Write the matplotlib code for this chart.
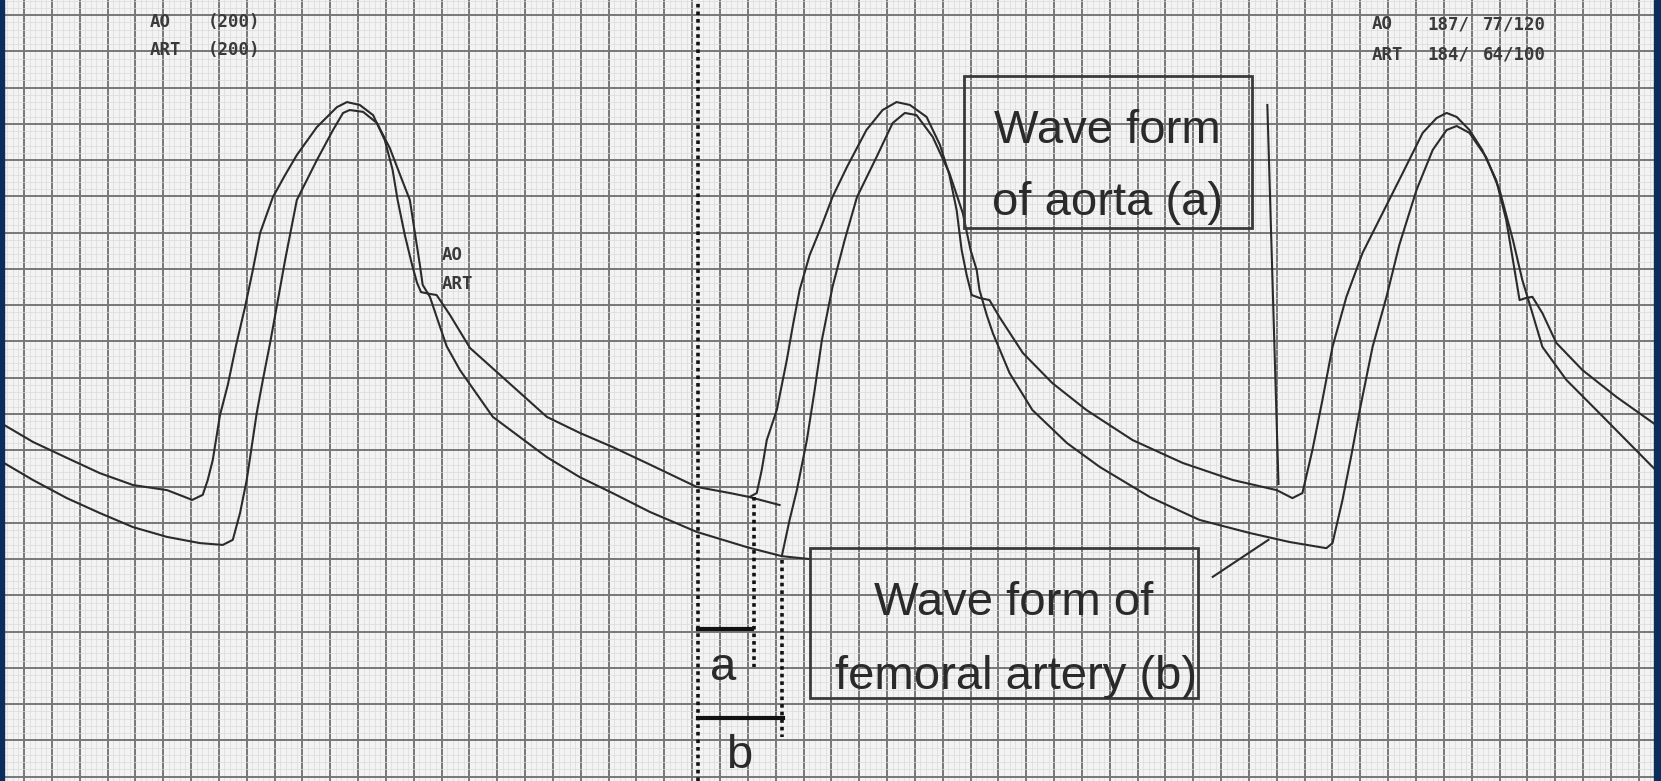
import matplotlib
matplotlib.use("Agg")
import matplotlib.pyplot as plt
from matplotlib.patches import Rectangle
import numpy as np

# chart paper: x in mm of paper (5 mm per big square), y in mmHg (10 per big square)
ao_t = [-3.6, 1.6, 7.7, 13.6, 19.6, 25.7, 28.9, 30.2, 32.1, 33.0, 33.9, 35.2, 36.6, 38.1,
        39.7, 41.1, 42.4, 44.7, 46.9, 49.0, 52.6, 56.2, 58.0, 60.3, 62.7, 64.8, 66.2, 67.1,
        68.4, 69.7, 70.6, 71.3, 72.9, 74.1, 76.5, 80.1, 84.9, 93.9, 99.8, 105.7, 111.8,
        120.8, 126.8, 130.3,
        131.6, 132.5, 133.4, 135.2, 137.0, 138.1, 139.3, 141.1, 143.3, 145.2, 147.8, 151.3,
        154.2, 156.7, 159.1, 162.1, 164.5, 166.2, 167.5, 168.4, 169.3, 170.2, 171.6, 173.4,
        175.2, 179.4, 184.7, 190.8, 199.1, 208.1, 217.1, 225.0, 227.8,
        229.6, 231.4, 233.2, 235.0, 237.5, 240.4, 244.0, 247.6, 251.2, 253.7, 255.5, 257.3,
        259.6, 261.9, 264.4, 266.2, 267.4, 268.6, 269.8, 270.9, 272.7, 275.2, 279.9, 286.0,
        293.9]
ao_p = [97.0, 92.3, 87.9, 83.7, 80.4, 79.0, 77.1, 76.3, 77.7, 81.8, 87.3, 99.7, 108.0, 119.0,
        129.5, 139.7, 149.9, 159.8, 165.9, 171.4, 179.1, 184.6, 186.0, 185.2, 182.4, 175.5,
        167.3, 159.0, 149.3, 141.1, 136.1, 133.6, 133.1, 132.8, 127.3, 118.2, 111.6, 99.2,
        94.8, 90.9, 86.5, 79.9, 78.2, 77.1,
        78.2, 84.6, 92.8, 101.1, 114.9, 124.5, 134.2, 143.8, 152.1, 159.8, 168.1, 178.3,
        183.8, 186.0, 185.2, 181.9, 174.2, 165.9, 156.2, 145.2, 138.3, 132.8, 132.0, 131.4,
        126.7, 116.8, 108.5, 101.1, 92.8, 86.5, 81.8, 79.0, 76.8,
        78.2, 90.1, 103.9, 118.5, 132.3, 144.4, 155.4, 166.4, 177.5, 181.6, 183.0, 181.9,
        178.3, 172.8, 164.5, 153.5, 142.5, 131.4, 132.0, 132.3, 127.8, 119.6, 112.1, 104.7,
        96.1]

art_t = [-3.6, 1.6, 7.7, 13.6, 19.6, 25.7, 31.6, 35.7, 37.5, 38.8, 40.0, 41.8, 42.9, 44.3,
         45.6, 46.9, 49.0, 52.6, 55.5, 57.3, 58.5, 60.9, 63.4, 65.7, 67.9, 69.3, 70.4, 71.1,
         71.6, 72.9, 74.3, 75.9, 78.3, 84.2, 93.9, 99.8, 105.7, 112.4, 120.8, 129.8, 136.1,
         137.5, 138.8, 140.6, 142.0, 143.3, 145.2, 147.4, 149.6, 153.1, 156.0, 158.2, 160.3,
         163.2, 166.2, 168.6, 170.0, 171.1, 171.6, 172.9, 174.0, 177.0, 181.1, 187.3, 193.2,
         202.2, 211.1, 220.1, 227.3, 233.9,
         235.0, 236.8, 238.4, 239.9, 242.2, 244.7, 247.0, 250.1, 253.0, 255.5, 257.3, 259.6,
         262.6, 265.0, 267.4, 269.1, 270.9, 272.7, 277.0, 282.9, 293.9]
art_p = [86.5, 81.8, 76.8, 72.7, 68.8, 66.1, 64.4, 63.9, 65.3, 72.7, 81.8, 100.3, 109.4, 120.4,
         131.4, 142.5, 159.0, 170.0, 178.3, 183.0, 183.8, 183.3, 180.2, 173.3, 164.5, 159.0,
         148.0, 141.1, 135.6, 132.3, 125.9, 118.7, 112.1, 99.2, 88.1, 82.6, 78.2, 73.0, 67.5,
         63.3, 60.8,
         70.8, 79.0, 92.8, 106.6, 120.4, 135.0, 148.0, 159.8, 170.8, 180.2, 183.0, 182.4,
         176.4, 166.4, 155.4, 145.2, 139.7, 134.2, 127.3, 122.3, 111.3, 101.1, 92.0, 85.4,
         77.1, 70.8, 67.2, 64.7, 63.0,
         64.4, 76.3, 88.7, 101.1, 118.5, 132.3, 146.6, 161.8, 172.8, 178.3, 179.4, 177.5,
         170.8, 161.8, 148.0, 136.9, 127.8, 118.5, 109.4, 100.3, 83.2]

# tangent lines drawn at the feet of the second beat
ao_foot_t, ao_foot_p = [130.3, 135.7], [77.1, 74.9]
art_foot_t, art_foot_p = [136.1, 141.1], [60.8, 60.0]

# dotted markers and the a / b intervals
ref_t = 121.0
ao_onset_t, art_onset_t = 131.1, 136.1
a_end_t, b_end_t = 130.8, 136.3
a_level, b_level = 40.7, 16.2

fig = plt.figure(figsize=(16.61, 7.81), dpi=100)
fig.patch.set_facecolor("#f3f3f3")
ax = fig.add_axes([0, 0, 1, 1])
ax.set_facecolor("#f3f3f3")
ax.set_xlim(-4.31, 293.9)
ax.set_ylim(-1.19, 214.14)

ax.set_xticks(np.arange(0, 295, 5))
ax.set_xticks(np.arange(-4, 295, 1), minor=True)
ax.set_yticks(np.arange(0, 215, 10))
ax.set_yticks(np.arange(0, 215, 2), minor=True)
ax.grid(which="minor", color="#dadada", lw=0.5)
ax.grid(which="major", color="#777777", lw=1.4)
ax.set_axisbelow(True)
ax.tick_params(which="both", length=0, labelbottom=False, labelleft=False)
for s in ax.spines.values():
    s.set_visible(False)

trace = dict(color="#2b2b2b", lw=1.5, solid_joinstyle="round", zorder=3)
ax.plot(ao_t, ao_p, **trace)
ax.plot(art_t, art_p, **trace)
ax.plot(ao_foot_t, ao_foot_p, **trace)
ax.plot(art_foot_t, art_foot_p, **trace)

dot = dict(color="#111111", lw=2.6, ls=(0, (1, 1.1)), dash_capstyle="butt", zorder=4)
ax.plot([ref_t, ref_t], [-1.19, 214.14], **dot)
ax.plot([ao_onset_t, ao_onset_t], [77.1, 30.2], **dot)
ax.plot([art_onset_t, art_onset_t], [59.7, 10.9], **dot)
ax.plot([ref_t, a_end_t], [a_level, a_level], color="#111111", lw=3, zorder=4)
ax.plot([ref_t, b_end_t], [b_level, b_level], color="#111111", lw=3, zorder=4)

big = dict(family="Liberation Sans", fontsize=34, color="#2a2a2a",
           ha="center", va="baseline", zorder=6)
ax.text(125.5, 26.7, "a", **big)
ax.text(128.5, 2.4, "b", **big)

# annotation boxes
box = dict(fill=False, ec="#3a3a3a", lw=2, zorder=5)
ax.add_patch(Rectangle((168.8, 151.3), 220.6 - 168.8, 193.2 - 151.3, **box))
ax.add_patch(Rectangle((141.1, 21.7), 210.8 - 141.1, 63.0 - 21.7, **box))
ax.text(194.6, 174.8, "Wave form", **big)
ax.text(194.6, 154.8, "of aorta (a)", **big)
ax.text(177.7, 44.6, "Wave form of", **big)
ax.text(178.1, 24.3, "femoral artery (b)", **big)
ax.plot([223.3, 225.3], [185.2, 80.7], color="#2b2b2b", lw=1.5, zorder=5)
ax.plot([213.5, 223.5], [55.1, 65.3], color="#2b2b2b", lw=1.5, zorder=5)

# recorder print-out
mono = dict(family="DejaVu Sans Mono", fontsize=12.5, fontweight="bold",
            color="#3a3a3a", va="center", zorder=6)
ax.text(22.6, 208.2, "AO", **mono)
ax.text(33.0, 208.2, "(200)", **mono)
ax.text(22.6, 200.3, "ART", **mono)
ax.text(33.0, 200.3, "(200)", **mono)
ax.text(242.0, 207.4, "AO", **mono)
ax.text(252.1, 207.4, "187/", **mono)
ax.text(262.0, 207.4, "77/120", **mono)
ax.text(242.0, 199.1, "ART", **mono)
ax.text(252.1, 199.1, "184/", **mono)
ax.text(262.0, 199.1, "64/100", **mono)
ax.text(75.0, 143.8, "AO", **mono)
ax.text(75.0, 135.8, "ART", **mono)

# slide frame
fig.patches.append(Rectangle((0, 0), 4 / 1661, 1, transform=fig.transFigure,
                             color="#0b2d5b", zorder=10))
fig.patches.append(Rectangle((1654 / 1661, 0), 7 / 1661, 1, transform=fig.transFigure,
                             color="#0b2d5b", zorder=10))

fig.savefig("out.png", dpi=100)
